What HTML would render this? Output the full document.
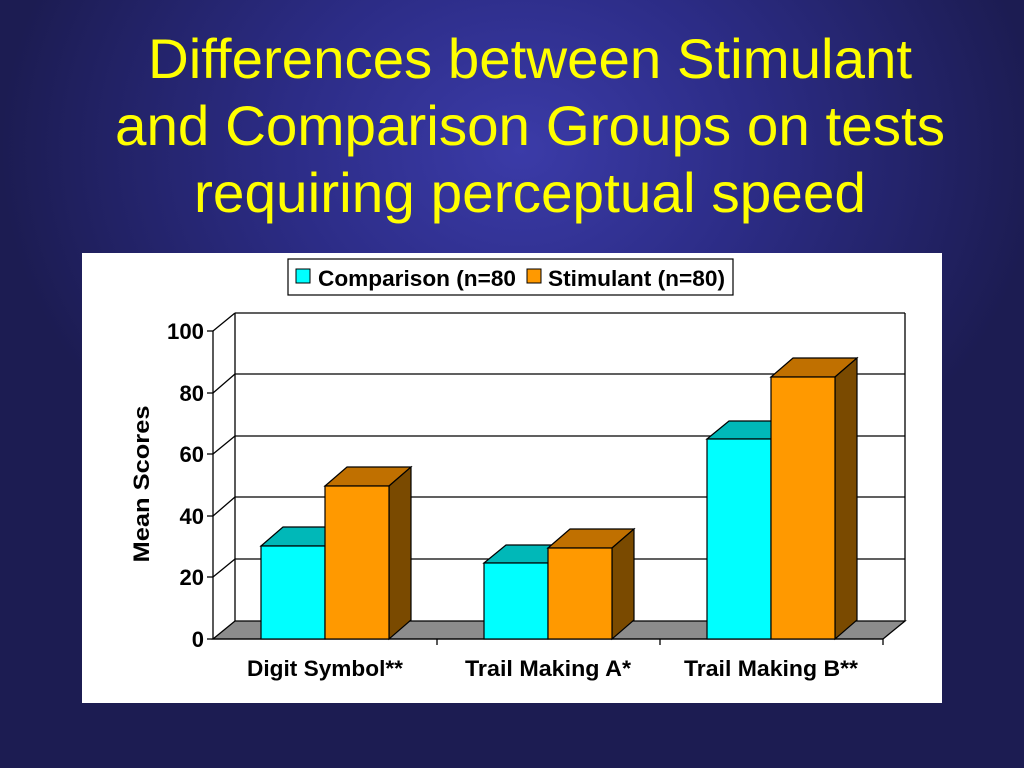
<!DOCTYPE html>
<html><head><style>
html,body{margin:0;padding:0;}
body{width:1024px;height:768px;overflow:hidden;background:radial-gradient(ellipse 520px 420px at 520px 150px,#3b3ba8 0%,#2c2c86 45%,#1c1c52 100%);font-family:"Liberation Sans",sans-serif;}
</style></head><body>
<svg width="1024" height="768" xmlns="http://www.w3.org/2000/svg" style="position:absolute;left:0;top:0">
<g font-family="Liberation Sans, sans-serif" fill="#ffff00" font-size="56" text-anchor="middle">
<text x="530" y="78" textLength="764" lengthAdjust="spacingAndGlyphs">Differences between Stimulant</text>
<text x="530" y="145" textLength="830" lengthAdjust="spacingAndGlyphs">and Comparison Groups on tests</text>
<text x="530" y="212" textLength="672" lengthAdjust="spacingAndGlyphs">requiring perceptual speed</text>
</g>
<rect x="82" y="253" width="860" height="450" fill="#fff"/>
<g stroke="#000" stroke-width="1.3" fill="none">
<line x1="235" y1="313" x2="905" y2="313"/>
<line x1="235" y1="374" x2="905" y2="374"/>
<line x1="235" y1="436" x2="905" y2="436"/>
<line x1="235" y1="497" x2="905" y2="497"/>
<line x1="235" y1="559" x2="905" y2="559"/>
<line x1="235" y1="313" x2="235" y2="621"/>
<line x1="905" y1="313" x2="905" y2="621"/>
<line x1="213" y1="331" x2="235" y2="313"/>
<line x1="213" y1="393" x2="235" y2="374"/>
<line x1="213" y1="454" x2="235" y2="436"/>
<line x1="213" y1="516" x2="235" y2="497"/>
<line x1="213" y1="577" x2="235" y2="559"/>
</g>
<polygon points="213,639 883,639 905,621 235,621" fill="#8c8c8c" stroke="#000" stroke-width="1.3"/>
<g stroke="#000" stroke-width="1.3">
<line x1="213" y1="331" x2="213" y2="639"/>
<line x1="213" y1="639" x2="883" y2="639"/>
<line x1="207" y1="331" x2="213" y2="331"/><line x1="207" y1="393" x2="213" y2="393"/>
<line x1="207" y1="454" x2="213" y2="454"/><line x1="207" y1="516" x2="213" y2="516"/>
<line x1="207" y1="577" x2="213" y2="577"/><line x1="207" y1="639" x2="213" y2="639"/>
<line x1="437" y1="639" x2="437" y2="645"/><line x1="660" y1="639" x2="660" y2="645"/><line x1="883" y1="639" x2="883" y2="645"/>
</g>
<g stroke="#000" stroke-width="1.2">
<polygon points="261,546 283,527 347,527 325,546" fill="#00b8b8"/>
<rect x="261" y="546" width="64" height="93" fill="#00ffff"/>
<polygon points="325,486 347,467 411,467 389,486" fill="#c07000"/>
<polygon points="389,486 411,467 411,620 389,639" fill="#7a4a00"/>
<rect x="325" y="486" width="64" height="153" fill="#ff9900"/>
<polygon points="484,563 506,545 570,545 548,563" fill="#00b8b8"/>
<rect x="484" y="563" width="64" height="76" fill="#00ffff"/>
<polygon points="548,548 570,529 634,529 612,548" fill="#c07000"/>
<polygon points="612,548 634,529 634,620 612,639" fill="#7a4a00"/>
<rect x="548" y="548" width="64" height="91" fill="#ff9900"/>
<polygon points="707,439 729,421 793,421 771,439" fill="#00b8b8"/>
<rect x="707" y="439" width="64" height="200" fill="#00ffff"/>
<polygon points="771,377 793,358 857,358 835,377" fill="#c07000"/>
<polygon points="835,377 857,358 857,620 835,639" fill="#7a4a00"/>
<rect x="771" y="377" width="64" height="262" fill="#ff9900"/>
</g>
<g font-family="Liberation Sans, sans-serif" font-weight="bold" font-size="22" fill="#000">
<g text-anchor="end">
<text x="204" y="339" textLength="37" lengthAdjust="spacingAndGlyphs">100</text><text x="204" y="401">80</text><text x="204" y="462">60</text>
<text x="204" y="524">40</text><text x="204" y="585">20</text><text x="204" y="647">0</text>
</g>
<g text-anchor="middle" font-size="22">
<text x="325" y="676" textLength="156" lengthAdjust="spacingAndGlyphs">Digit Symbol**</text>
<text x="548" y="676" textLength="166" lengthAdjust="spacingAndGlyphs">Trail Making A*</text>
<text x="771" y="676" textLength="174" lengthAdjust="spacingAndGlyphs">Trail Making B**</text>
</g>
<text x="0" y="0" font-size="22" text-anchor="middle" textLength="157" lengthAdjust="spacingAndGlyphs" transform="translate(149,484) rotate(-90)">Mean Scores</text>
<rect x="288" y="259" width="445" height="36" fill="#fff" stroke="#000" stroke-width="1.2"/>
<rect x="296" y="269" width="14" height="14" fill="#00ffff" stroke="#000"/>
<rect x="527" y="269" width="14" height="14" fill="#ff9900" stroke="#000"/>
<text x="318" y="286" font-size="22" textLength="198" lengthAdjust="spacingAndGlyphs">Comparison (n=80</text>
<text x="548" y="286" font-size="22" textLength="177" lengthAdjust="spacingAndGlyphs">Stimulant (n=80)</text>
</g>
</svg>
</body></html>
